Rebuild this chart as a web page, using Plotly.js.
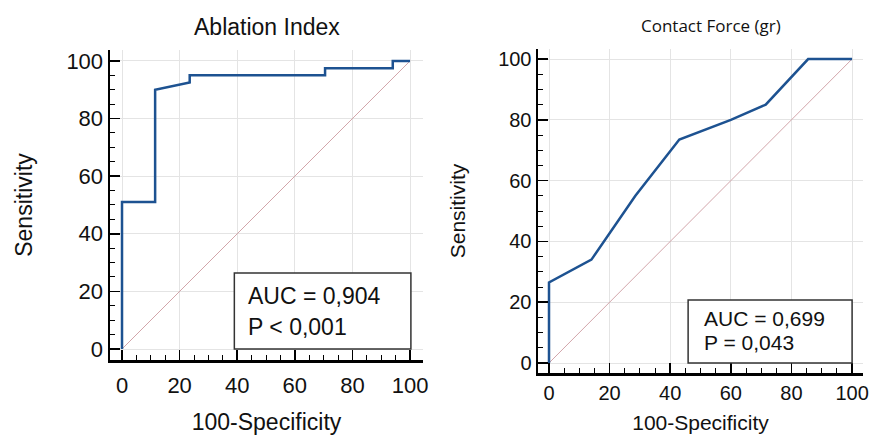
<!DOCTYPE html>
<html>
<head>
<meta charset="utf-8">
<script src="https://cdn.plot.ly/plotly-3.0.1.min.js"></script>
<style>html,body{margin:0;padding:0;background:#fff;}#chart{width:869px;height:435px;}</style>
</head>
<body>
<div id="chart"></div>
<script>
// Ablation Index ROC curve (100-Specificity vs Sensitivity)
const aiX = [0, 0, 11.5, 11.5, 23.5, 23.5, 70.5, 70.5, 94, 94, 100];
const aiY = [0, 51, 51, 90, 92.5, 95, 95, 97.5, 97.5, 100, 100];
// Contact Force ROC curve
const cfX = [0, 0, 14, 28.5, 43, 60, 71.5, 85.5, 100];
const cfY = [0, 26.5, 34, 55, 73.5, 80, 85, 100, 100];
// reference diagonal
const diagX = [0, 100];
const diagY = [0, 100];
const tickVals = [0, 20, 40, 60, 80, 100];
const titles = ["Ablation Index", "Contact Force (gr)"];
const xTitle = "100-Specificity";
const yTitle = "Sensitivity";
const aiStats = ["AUC = 0,904", "P &lt; 0,001"];
const cfStats = ["AUC = 0,699", "P = 0,043"];

const blue = '#1d5291';
const diagColor = 'rgb(210,165,170)';
const font = 'Liberation Sans, Arial, sans-serif';

const traces = [
  {x: diagX, y: diagY, xaxis: 'x', yaxis: 'y', mode: 'lines', line: {color: diagColor, width: 1}, hoverinfo: 'skip'},
  {x: aiX, y: aiY, xaxis: 'x', yaxis: 'y', mode: 'lines', line: {color: blue, width: 2.5}},
  {x: diagX, y: diagY, xaxis: 'x2', yaxis: 'y2', mode: 'lines', line: {color: diagColor, width: 1}, hoverinfo: 'skip'},
  {x: cfX, y: cfY, xaxis: 'x2', yaxis: 'y2', mode: 'lines', line: {color: blue, width: 2.5}}
];

function axis(domain, range, fs, anchor, titleText, titleSize, standoff, labelOff) {
  return {
    domain: domain, range: range, anchor: anchor,
    tickmode: 'array', tickvals: tickVals,
    ticks: 'inside', ticklen: 10, tickwidth: 1.5, tickcolor: '#000',
    ticklabelstandoff: labelOff,
    minor: {dtick: 5, ticks: 'inside', ticklen: 5, tickwidth: 1, tickcolor: '#000', showgrid: false},
    showline: true, linewidth: 2.5, linecolor: '#000',
    showgrid: true, gridcolor: '#e4e4e4', gridwidth: 1,
    zeroline: false,
    tickfont: {family: font, size: fs, color: '#111'},
    title: {text: titleText, font: {family: font, size: titleSize, color: '#111'}, standoff: standoff},
    fixedrange: true
  };
}

const layout = {
  width: 869, height: 435,
  margin: {l: 0, r: 0, t: 0, b: 0},
  paper_bgcolor: '#fff', plot_bgcolor: '#fff',
  showlegend: false,
  xaxis: axis([110/869, 423/869], [-4.17, 104.5], 22, 'y', xTitle, 23, 20, 4),
  yaxis: axis([1-360/435, 1-50/435], [-3.82, 103.8], 22, 'x', yTitle, 23, 28, 0),
  xaxis2: axis([538/869, 863/869], [-3.63, 103.6], 20, 'y2', xTitle, 21, 13, 0),
  yaxis2: axis([1-373/435, 1-49/435], [-3.29, 103.3], 20, 'x2', yTitle, 21, 27, 0),
  shapes: [
    {type: 'rect', xref: 'x', yref: 'y', x0: 39, x1: 100.3, y0: 0, y1: 26.4, layer: 'above',
     line: {color: '#333', width: 1.5}, fillcolor: '#fff'},
    {type: 'rect', xref: 'x2', yref: 'y2', x0: 45.9, x1: 100, y0: 0, y1: 20.7, layer: 'above',
     line: {color: '#333', width: 1.5}, fillcolor: '#fff'}
  ],
  annotations: [
    {text: titles[0], xref: 'paper', yref: 'paper', x: 267/869, y: 1-27/435, xanchor: 'center', yanchor: 'middle',
     showarrow: false, font: {family: font, size: 23, color: '#111'}},
    {text: titles[1], xref: 'paper', yref: 'paper', x: 711/869, y: 1-25/435, xanchor: 'center', yanchor: 'middle',
     showarrow: false, font: {family: 'Open Sans, sans-serif', size: 17, color: '#111'}},
    {text: aiStats[0], xref: 'x', yref: 'y', x: 43.1, y: 18.4, xanchor: 'left', yanchor: 'middle', showarrow: false,
     font: {family: font, size: 23, color: '#111'}},
    {text: aiStats[1], xref: 'x', yref: 'y', x: 43.1, y: 7.6, xanchor: 'left', yanchor: 'middle', showarrow: false,
     font: {family: font, size: 23, color: '#111'}},
    {text: cfStats[0], xref: 'x2', yref: 'y2', x: 50.5, y: 14.5, xanchor: 'left', yanchor: 'middle', showarrow: false,
     font: {family: font, size: 21, color: '#111'}},
    {text: cfStats[1], xref: 'x2', yref: 'y2', x: 50.5, y: 6.6, xanchor: 'left', yanchor: 'middle', showarrow: false,
     font: {family: font, size: 21, color: '#111'}}
  ]
};

Plotly.newPlot('chart', traces, layout, {displayModeBar: false, staticPlot: true});
</script>
</body>
</html>
